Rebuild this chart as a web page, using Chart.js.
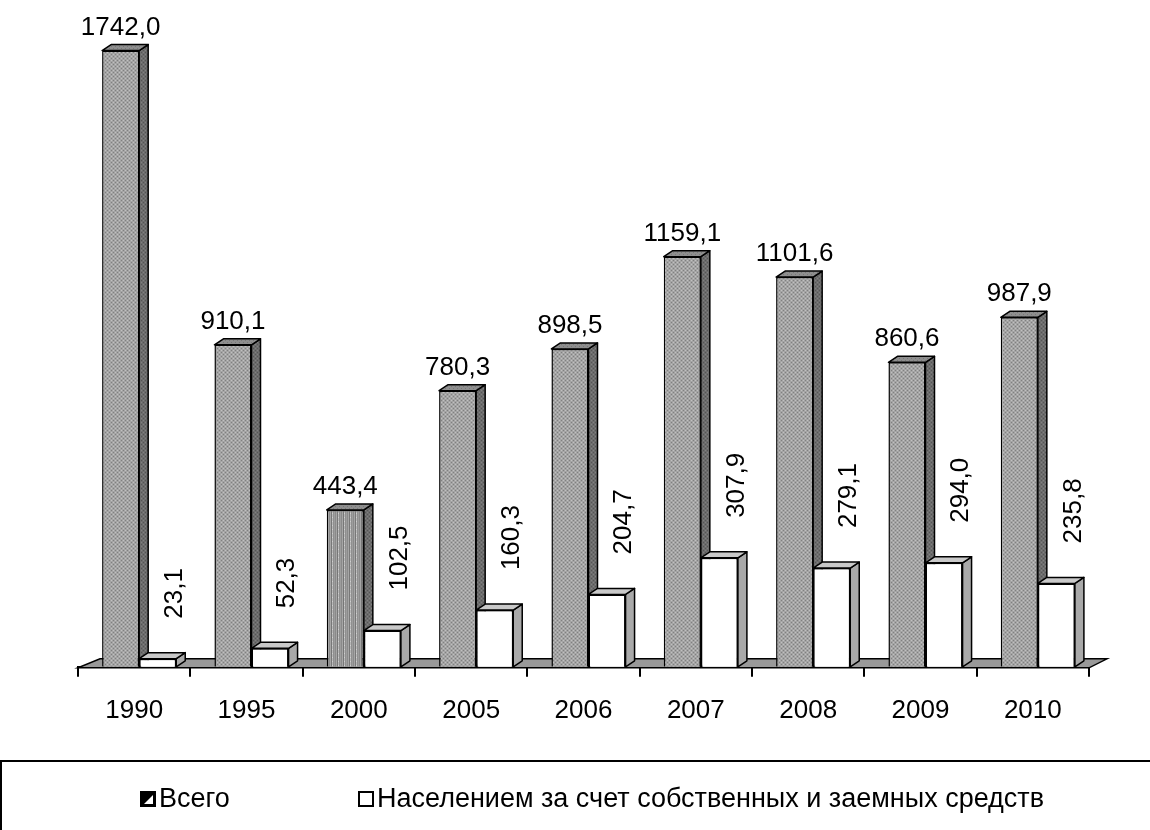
<!DOCTYPE html>
<html>
<head>
<meta charset="utf-8">
<script src="https://cdn.jsdelivr.net/npm/chart.js@4.4.0/dist/chart.umd.min.js"></script>
<style>
  html, body { margin: 0; background: #fff; }
  canvas { display: block; }
</style>
</head>
<body>
<canvas id="chart" width="1150" height="830"></canvas>
<script>
// data
const years = ['1990', '1995', '2000', '2005', '2006', '2007', '2008', '2009', '2010'];
const totalVals = [1742.0, 910.1, 443.4, 780.3, 898.5, 1159.1, 1101.6, 860.6, 987.9];
const popVals = [23.1, 52.3, 102.5, 160.3, 204.7, 307.9, 279.1, 294.0, 235.8];
const seriesNames = ['Всего', 'Населением за счет собственных и заемных средств'];

const FONT = '"Liberation Sans", Arial, sans-serif';
const DX = 9, DY = -6;   // 3d depth of the bars
const SHIFT = 5;         // bars sit a little right of the category centre

function pattern(w, h, paint) {
    const c = document.createElement('canvas');
    c.width = w; c.height = h;
    const g = c.getContext('2d');
    paint(g);
    return g.createPattern(c, 'repeat');
}
const ctx0 = document.getElementById('chart').getContext('2d');

// fine dotted grey fill like the old office hatch
const dotFront = pattern(4, 4, g => {
    g.fillStyle = '#a4a4a4'; g.fillRect(0, 0, 4, 4);
    g.fillStyle = '#808080'; g.fillRect(0, 0, 1, 1); g.fillRect(2, 2, 1, 1);
    g.fillStyle = '#c0c0c0'; g.fillRect(2, 0, 1, 1); g.fillRect(0, 2, 1, 1);
});
const dotSide = pattern(4, 4, g => {
    g.fillStyle = '#6c6c6c'; g.fillRect(0, 0, 4, 4);
    g.fillStyle = '#555'; g.fillRect(0, 0, 1, 1); g.fillRect(2, 2, 1, 1);
    g.fillStyle = '#808080'; g.fillRect(2, 0, 1, 1); g.fillRect(0, 2, 1, 1);
});
const dotTop = pattern(4, 4, g => {
    g.fillStyle = '#8e8e8e'; g.fillRect(0, 0, 4, 4);
    g.fillStyle = '#767676'; g.fillRect(0, 0, 1, 1); g.fillRect(2, 2, 1, 1);
});
const stripes = pattern(6, 4, g => {
    const cols = ['#8a8a8a', '#a6a6a6', '#777', '#b8b8b8', '#8f8f8f', '#9d9d9d'];
    cols.forEach((c, i) => { g.fillStyle = c; g.fillRect(i, 0, 1, 4); });
    g.fillStyle = '#cfcfcf'; g.fillRect(3, 1, 1, 1);
});

function fmt(v) { return v.toFixed(1).replace('.', ','); }

function poly(ctx, pts, fill) {
    ctx.beginPath();
    ctx.moveTo(pts[0][0], pts[0][1]);
    for (let i = 1; i < pts.length; i++) ctx.lineTo(pts[i][0], pts[i][1]);
    ctx.closePath();
    ctx.fillStyle = fill; ctx.fill();
    ctx.stroke();
}

function drawFaces(ctx, bar, topFill, sideFill) {
    const L = bar.x - bar.width / 2, R = bar.x + bar.width / 2, T = bar.y, B = bar.base;
    ctx.lineWidth = 1.5; ctx.strokeStyle = '#000'; ctx.lineJoin = 'round';
    poly(ctx, [[R, T], [R + DX, T + DY], [R + DX, B + DY], [R, B]], sideFill);
    poly(ctx, [[L, T], [L + DX, T + DY], [R + DX, T + DY], [R, T]], topFill);
}

const bars3d = {
    id: 'bars3d',
    beforeDatasetsDraw(chart) {
        // floor
        const { ctx, chartArea: a } = chart;
        ctx.save();
        ctx.lineWidth = 1.5; ctx.strokeStyle = '#000';
        poly(ctx, [[a.left, a.bottom + 1], [a.right, a.bottom + 1], [a.right + 18, a.bottom - 8], [a.left + 22, a.bottom - 8]], '#999');
        ctx.restore();
        ctx.save();
        ctx.translate(SHIFT, 0);
    },
    afterDatasetsDraw(chart) {
        const { ctx } = chart;
        const m0 = chart.getDatasetMeta(0), m1 = chart.getDatasetMeta(1);
        m0.data.forEach((g, i) => {
            drawFaces(ctx, g, dotTop, dotSide);
            const w = m1.data[i];
            w.draw(ctx);
            drawFaces(ctx, w, '#c9c9c9', '#a9a9a9');
        });
        // value labels
        ctx.fillStyle = '#000';
        ctx.font = '26px ' + FONT;
        m0.data.forEach((g, i) => {
            ctx.textAlign = 'center'; ctx.textBaseline = 'alphabetic';
            ctx.fillText(fmt(totalVals[i]), g.x, g.y - 16);
        });
        m1.data.forEach((w, i) => {
            ctx.save();
            ctx.translate(w.x + 17, w.y - 40);
            ctx.rotate(-Math.PI / 2);
            ctx.textAlign = 'left'; ctx.textBaseline = 'middle';
            ctx.fillText(fmt(popVals[i]), 0, 0);
            ctx.restore();
        });
        ctx.restore();
    },
    afterDraw(chart) {
        // legend box
        const { ctx } = chart;
        ctx.save();
        ctx.strokeStyle = '#000'; ctx.lineWidth = 2;
        ctx.strokeRect(1, 761, 1180, 120);
        // marker 1
        let x = 141, y = 792, s = 14;
        ctx.fillStyle = '#000'; ctx.fillRect(x, y, s, s);
        ctx.fillStyle = '#fff';
        ctx.beginPath(); ctx.moveTo(x + s - 2, y + 3); ctx.lineTo(x + s - 2, y + s - 2); ctx.lineTo(x + 3, y + s - 2); ctx.closePath(); ctx.fill();
        ctx.strokeRect(x, y, s, s);
        // marker 2
        x = 359;
        ctx.fillStyle = '#fff'; ctx.fillRect(x, y, s, s);
        ctx.strokeRect(x, y, s, s);
        ctx.fillStyle = '#000';
        ctx.font = '27px ' + FONT;
        ctx.textAlign = 'left'; ctx.textBaseline = 'alphabetic';
        ctx.fillText(seriesNames[0], 159, 807);
        ctx.fillText(seriesNames[1], 377, 807);
        ctx.restore();
    }
};

new Chart(ctx0, {
    type: 'bar',
    data: {
        labels: years,
        datasets: [
            { label: seriesNames[0], data: totalVals,
              backgroundColor: c => c.dataIndex === 2 ? stripes : dotFront,
              borderColor: '#000', borderWidth: 1.5, categoryPercentage: 0.66, barPercentage: 1 },
            { label: seriesNames[1], data: popVals,
              backgroundColor: '#fff',
              borderColor: '#000', borderWidth: 1.5, categoryPercentage: 0.66, barPercentage: 1 }
        ]
    },
    options: {
        responsive: false, animation: false, devicePixelRatio: 1,
        layout: { padding: { left: 78, right: 61, top: 30, bottom: 86 } },
        plugins: { legend: { display: false }, tooltip: { enabled: false } },
        scales: {
            x: {
                grid: { drawOnChartArea: false, drawTicks: true, tickLength: 10, color: '#000', lineWidth: 2, offset: true },
                border: { display: true, color: '#000', width: 2 },
                ticks: { font: { family: FONT, size: 26 }, color: '#000', padding: 18 }
            },
            y: { display: false, min: 0, max: 1800 }
        }
    },
    plugins: [bars3d]
});
</script>
</body>
</html>
